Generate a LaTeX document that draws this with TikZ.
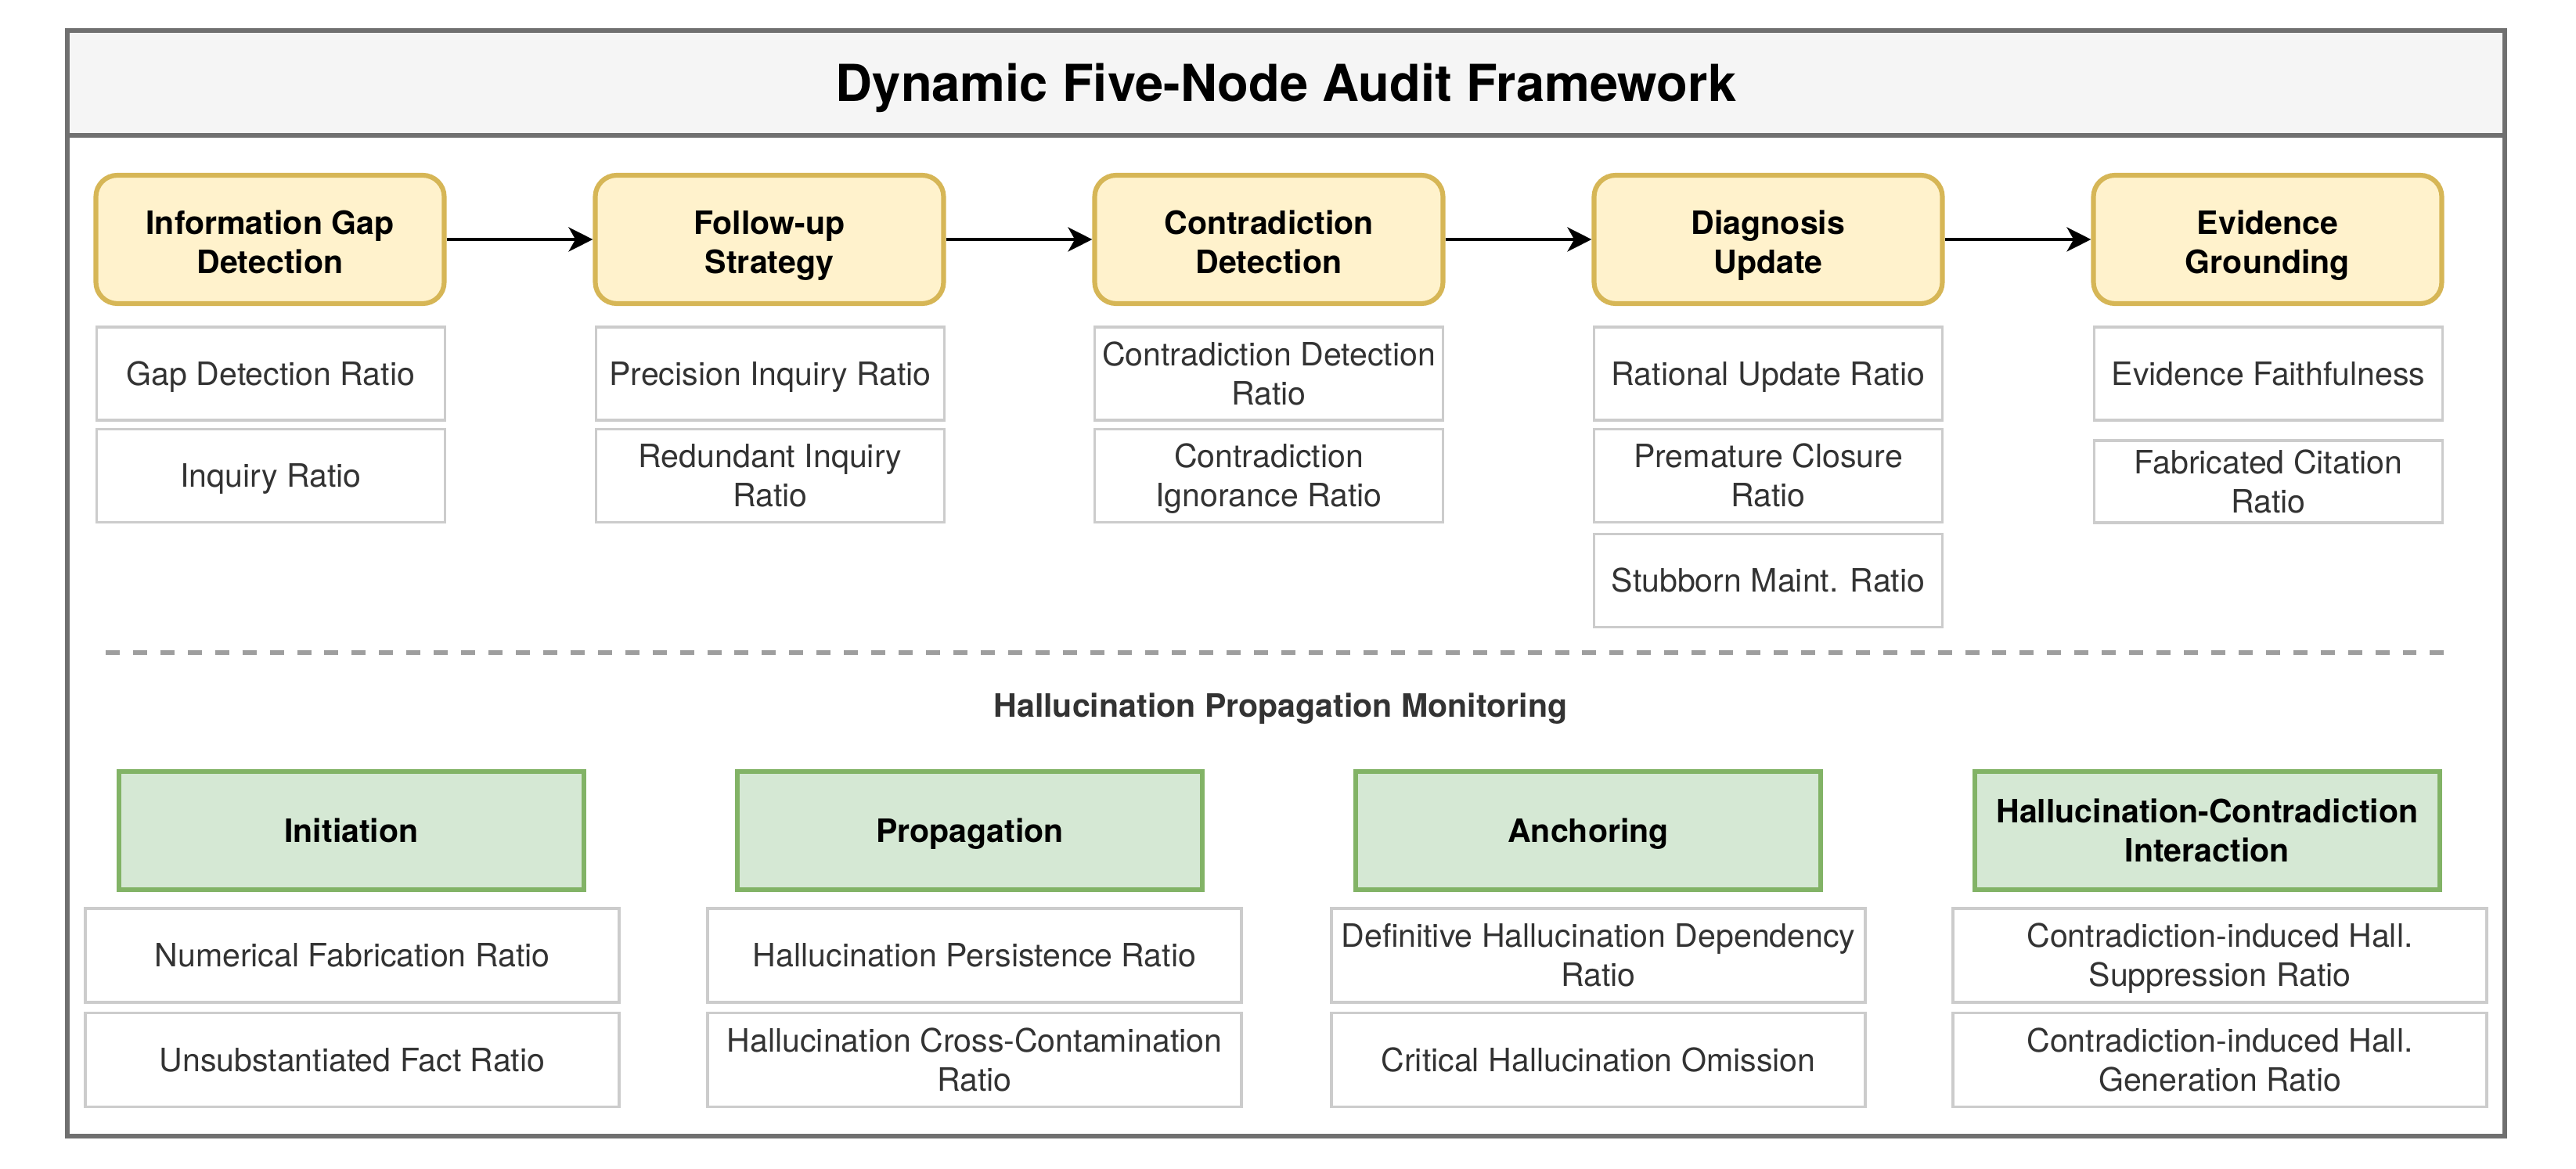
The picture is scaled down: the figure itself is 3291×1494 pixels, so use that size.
\documentclass[tikz,border=0pt]{standalone}
\usepackage{fontspec}
\setmainfont{TeX Gyre Heros}
\usetikzlibrary{arrows.meta}
\newcommand{\pxu}{0.29197pt}
\definecolor{framec}{HTML}{707070}
\definecolor{titlef}{HTML}{F5F5F5}
\definecolor{yelf}{HTML}{FFF2CC}
\definecolor{yeld}{HTML}{D6B656}
\definecolor{grnf}{HTML}{D5E8D4}
\definecolor{grnd}{HTML}{82B366}
\definecolor{boxd}{HTML}{CCCCCC}
\definecolor{txtc}{HTML}{333333}
\definecolor{dashc}{HTML}{9E9E9E}
\begin{document}
\begin{tikzpicture}[x=0.29197pt,y=-0.29197pt,
  framebox/.style={draw=framec, line width=2pt, inner sep=0pt},
  titlebar/.style={draw=framec, fill=titlef, line width=2pt, inner sep=0pt,
    minimum width=3114*\pxu, minimum height=134*\pxu},
  titletext/.style={font=\fontsize{19}{23}\selectfont\bfseries, text=black, inner sep=0pt,
    text height=13.6pt, text depth=0pt},
  oneline/.style={text height=8.6pt, text depth=0pt},
  twoline/.style={text height=23.3pt, text depth=0pt},
  hdr/.style={draw=yeld, fill=yelf, line width=1.8pt, rounded corners=8pt,
    minimum width=445*\pxu, minimum height=164*\pxu, align=center, inner sep=0pt,
    font=\fontsize{12}{14.7}\selectfont\bfseries, text=black, text height=25.5pt, text depth=0pt},
  ghdr/.style={draw=grnd, fill=grnf, line width=1.8pt,
    minimum width=594*\pxu, minimum height=151*\pxu, align=center, inner sep=0pt,
    font=\fontsize{12}{14.7}\selectfont\bfseries, text=black, oneline},
  metric/.style={draw=boxd, fill=white, line width=1pt,
    minimum width=445*\pxu, minimum height=119*\pxu, align=center, inner sep=0pt,
    font=\fontsize{12}{14.7}\selectfont, text=txtc, oneline},
  bmetric/.style={metric, minimum width=682*\pxu, minimum height=120*\pxu},
  arr/.style={-{Stealth[length=9pt,width=9pt,inset=2.5pt]}, line width=1.4pt, black},
  dashline/.style={draw=dashc, line width=2pt, dash pattern=on 5.25pt off 4.95pt},
  sectlabel/.style={font=\fontsize{12}{14.7}\selectfont\bfseries, text=txtc, inner sep=0pt, oneline}
]
\useasboundingbox (0,0) rectangle (3291,1494);

% outer frame and title bar
\coordinate (ftl) at (86,39);
\coordinate (fbr) at (3200,1452);
\draw[framebox] (ftl) rectangle (fbr);
\node[titlebar] (tbar) at (1643,106) {};
\node[titletext] (title) at (1643,106) {Dynamic Five-Node Audit Framework};

% top row: five audit nodes
\node[hdr] (n1) at (345,306) {Information Gap\\Detection};
\node[hdr] (n2) at (983,306) {Follow-up\\Strategy};
\node[hdr] (n3) at (1621,306) {Contradiction\\Detection};
\node[hdr] (n4) at (2259,306) {Diagnosis\\Update};
\node[hdr] (n5) at (2897,306) {Evidence\\Grounding};

\draw[arr] (n1) -- (n2);
\draw[arr] (n2) -- (n3);
\draw[arr] (n3) -- (n4);
\draw[arr] (n4) -- (n5);

% metrics under top nodes
\node[metric] (m11) at (346,477.5) {Gap Detection Ratio};
\node[metric] (m12) at (346,608) {Inquiry Ratio};
\node[metric] (m21) at (984,477.5) {Precision Inquiry Ratio};
\node[metric, twoline] (m22) at (984,608) {Redundant Inquiry\\Ratio};
\node[metric, twoline] (m31) at (1621,477.5) {Contradiction Detection\\Ratio};
\node[metric, twoline] (m32) at (1621,608) {Contradiction\\Ignorance Ratio};
\node[metric] (m41) at (2259,477.5) {Rational Update Ratio};
\node[metric, twoline] (m42) at (2259,608) {Premature Closure\\Ratio};
\node[metric] (m43) at (2259,742) {Stubborn Maint. Ratio};
\node[metric] (m51) at (2898,477.5) {Evidence Faithfulness};
\node[metric, twoline, minimum height=105*\pxu] (m52) at (2898,615.5) {Fabricated Citation\\Ratio};

% separator
\coordinate (dl) at (135,834);
\coordinate (dr) at (3126,834);
\draw[dashline] (dl) -- (dr);

\node[sectlabel] (sect) at (1636,902) {Hallucination Propagation Monitoring};

% bottom row
\node[ghdr] (g1) at (449,1061.5) {Initiation};
\node[ghdr] (g2) at (1239,1061.5) {Propagation};
\node[ghdr] (g3) at (2029,1061.5) {Anchoring};
\node[ghdr, twoline] (g4) at (2820,1061.5) {Hallucination-Contradiction\\Interaction};

\node[bmetric] (b11) at (450,1221) {Numerical Fabrication Ratio};
\node[bmetric] (b12) at (450,1354.5) {Unsubstantiated Fact Ratio};
\node[bmetric] (b21) at (1245,1221) {Hallucination Persistence Ratio};
\node[bmetric, twoline] (b22) at (1245,1354.5) {Hallucination Cross-Contamination\\Ratio};
\node[bmetric, twoline] (b31) at (2042,1221) {Definitive Hallucination Dependency\\Ratio};
\node[bmetric] (b32) at (2042,1354.5) {Critical Hallucination Omission};
\node[bmetric, twoline] (b41) at (2836,1221) {Contradiction-induced Hall.\\Suppression Ratio};
\node[bmetric, twoline] (b42) at (2836,1354.5) {Contradiction-induced Hall.\\Generation Ratio};
\end{tikzpicture}
\end{document}
